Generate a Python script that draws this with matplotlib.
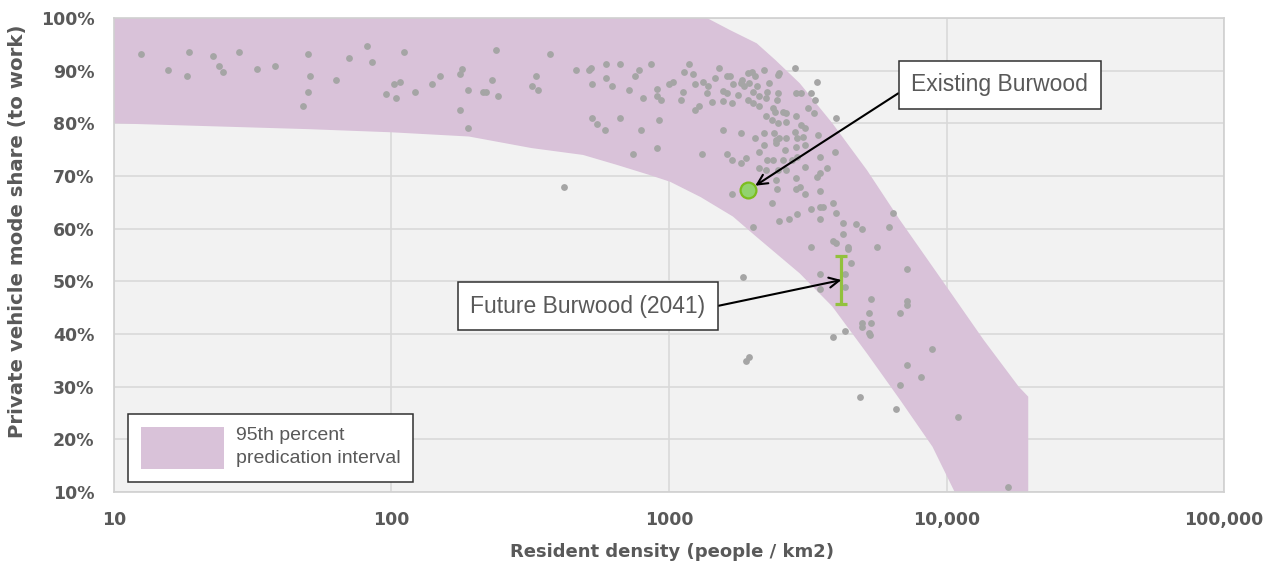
import numpy as np
import matplotlib.pyplot as plt
from matplotlib.patches import Patch
from matplotlib.ticker import FixedLocator, FixedFormatter

# survey areas : resident density (people / km2) vs private vehicle mode share (%)
density = [
    12.5, 15.6, 18.6, 18.4, 22.8, 23.9, 24.8, 28.3, 32.8, 38.1,
    49.9, 50.7, 49.9, 48.1, 62.9, 70.5, 81.8, 85.1, 95.3, 101.9,
    107.4, 103.5, 110.6, 122, 140, 150, 177, 180, 177, 189,
    189, 214, 219, 231, 238, 242, 321, 332, 338, 374,
    420, 464, 515, 524, 530, 530, 549, 586, 594, 594,
    625, 667, 667, 716, 740, 752, 778, 791, 804, 859,
    902, 902, 933, 918, 902, 997, 1031, 1120, 1101, 1178,
    1136, 1217, 1238, 1238, 1280, 1312,
    1514, 1465, 1660, 1615, 1330, 1380, 1370, 1566, 1615, 1425,
    1566, 1685, 1700, 1810, 1830, 1860, 1770, 1930, 1985, 2040,
    1950, 2070, 2010, 2110, 1930, 2010, 2110, 2200, 2290, 2260,
    2230, 2470, 2500, 2470, 2440, 2840, 3400, 2880, 3000, 3250,
    3350, 2370, 2410, 2580, 2650, 2230, 2350, 2470, 2650, 2880,
    3170, 3330, 4000, 3000, 3100, 2840, 1566, 1810, 2040, 2200,
    2380, 2420, 2500, 2640, 2900, 3030, 3450, 2200, 2420, 2620,
    2880, 3100, 1615, 1690, 1810, 1900, 2110, 2260, 2370, 2580,
    2780, 2900, 3500, 3950, 2110, 2230, 2470, 2640, 3100, 3500,
    3700, 2420, 2880, 3400,
    1680, 2000, 2360, 2450, 2490, 2700, 2900, 2860, 2970, 3100,
    3500, 3250, 3500, 3600, 3500, 3900, 4000, 4240, 4700, 4970,
    6390, 6200, 4240, 3900, 4400, 5600, 3250, 4000, 4400, 4530,
    7200, 1840, 3500, 4300, 3500, 4300, 5340, 5250, 6780, 7230,
    7200, 4970, 5330, 4970, 5250, 5300, 4300, 3900, 1950, 1900,
    8880, 7200, 8100, 6780, 4860, 6550, 11000, 16700,
]
mode_share = [
    93.2, 90.1, 93.5, 89.0, 92.8, 90.9, 89.7, 93.5, 90.4, 90.9,
    93.2, 89.0, 85.9, 83.3, 88.2, 92.4, 94.7, 91.6, 85.6, 87.4,
    87.8, 84.8, 93.5, 85.9, 87.4, 89.0, 89.3, 90.3, 82.5, 86.3,
    79.1, 85.9, 85.9, 88.2, 93.9, 85.1, 87.0, 89.0, 86.3, 93.2,
    68.0, 90.1, 90.1, 90.5, 87.4, 81.0, 79.8, 78.7, 91.2, 88.6,
    87.0, 91.2, 81.0, 86.3, 74.1, 89.0, 90.1, 78.7, 84.8, 91.2,
    86.6, 85.1, 84.4, 80.6, 75.3, 87.4, 87.8, 85.9, 84.4, 91.3,
    89.7, 89.3, 87.4, 82.5, 83.2, 74.1,
    90.6, 88.7, 89.0, 88.9, 87.8, 87.0, 85.8, 86.2, 85.8, 84.0,
    84.3, 83.8, 87.4, 87.6, 88.2, 87.0, 85.4, 89.5, 89.8, 88.9,
    87.6, 87.0, 86.0, 85.1, 84.4, 83.8, 83.2, 90.1, 87.6, 86.0,
    84.8, 89.1, 89.5, 85.7, 84.4, 90.6, 87.9, 85.7, 85.7, 85.7,
    84.4, 82.9, 82.2, 82.2, 81.9, 81.3, 80.6, 80.0, 80.3, 81.3,
    82.9, 81.9, 81.0, 79.7, 79.1, 78.4, 78.7, 78.1, 77.2, 78.1,
    78.1, 76.8, 77.2, 77.2, 77.2, 77.5, 77.8, 75.8, 76.2, 74.9,
    75.6, 75.8, 74.2, 73.0, 72.4, 73.4, 74.6, 73.0, 73.0, 73.0,
    73.0, 73.7, 73.7, 74.6, 71.5, 71.2, 71.2, 71.2, 71.8, 70.5,
    71.5, 69.2, 69.6, 69.9,
    66.5, 60.4, 64.9, 67.6, 61.5, 61.9, 62.7, 67.6, 68.0, 66.5,
    67.2, 63.8, 64.2, 64.2, 61.9, 64.9, 63.0, 61.1, 60.8, 60.0,
    63.0, 60.4, 58.9, 57.7, 56.6, 56.6, 56.6, 57.3, 56.2, 53.5,
    52.4, 50.9, 51.4, 51.3, 48.5, 48.9, 46.6, 43.9, 43.9, 46.2,
    45.5, 42.0, 42.0, 41.4, 40.1, 39.9, 40.5, 39.4, 35.7, 34.8,
    37.1, 34.1, 31.8, 30.3, 28.0, 25.7, 24.2, 10.9,
]

# 95th percent prediction interval edges
band_upper_x = [10, 1370, 1660, 2070, 2420, 2960, 3880, 5170, 6800, 10000, 13600, 18200, 19700]
band_upper_y = [100, 100, 97.7, 95.2, 92.0, 87.6, 80.0, 71.1, 61.6, 49.0, 38.9, 30.0, 28.1]
band_lower_x = [10, 50, 100, 190, 320, 490, 650, 850, 1010, 1300, 1700, 2050, 2960, 3880, 5170, 6800, 8900, 10700]
band_lower_y = [80.0, 78.9, 78.3, 77.5, 75.3, 74.0, 72.1, 70.2, 68.9, 66.0, 62.3, 58.6, 51.5, 45.2, 36.3, 27.5, 18.6, 10.0]

# Burwood
existing_density, existing_share = 1930, 67.3
future_density = 4180
future_low, future_high = 45.7, 54.8

x_ticks = [10, 100, 1000, 10000, 100000]
x_tick_labels = ['10', '100', '1000', '10,000', '100,000']
y_ticks = list(range(10, 101, 10))

band_col = '#d9c2d9'
grey_txt = '#595959'

fig = plt.figure(figsize=(12.72, 5.68), dpi=100)
ax = fig.add_axes([0.0896, 0.1338, 0.8727, 0.8345])
ax.set_facecolor('#f2f2f2')
ax.set_xscale('log')
ax.set_xlim(10, 100000)
ax.set_ylim(10, 100)

# band polygon (closed below the axis floor, gets clipped)
poly_x = band_upper_x + [band_upper_x[-1], band_lower_x[-1]] + band_lower_x[::-1]
poly_y = band_upper_y + [0, 0] + band_lower_y[::-1]
ax.fill(poly_x, poly_y, color=band_col, lw=0, zorder=1)

ax.scatter(density, mode_share, s=24, color='#a5a5a5', lw=0, zorder=3)

ax.scatter([existing_density], [existing_share], s=130, color='#92d36e',
           edgecolor='#7cbd1e', lw=1.6, zorder=4)
future_mid = (future_low + future_high) / 2
ax.errorbar([future_density], [future_mid], yerr=[[future_mid - future_low], [future_high - future_mid]],
            fmt='none', ecolor='#92c13e', elinewidth=2.3, capsize=4.5, capthick=2.3, zorder=4)

# grid / frame
ax.xaxis.set_major_locator(FixedLocator(x_ticks))
ax.xaxis.set_major_formatter(FixedFormatter(x_tick_labels))
ax.xaxis.set_minor_locator(FixedLocator([]))
ax.set_yticks(y_ticks)
ax.set_yticklabels([f'{v}%' for v in y_ticks])
ax.grid(True, color='#d9d9d9', lw=1.2, zorder=0)
ax.set_axisbelow(True)
for sp in ax.spines.values():
    sp.set_color('#d0d0d0')
    sp.set_linewidth(1.2)
ax.tick_params(length=0, colors=grey_txt, labelsize=12.5)
ax.tick_params(axis='x', pad=14)
ax.tick_params(axis='y', pad=14)
for lbl in ax.get_xticklabels() + ax.get_yticklabels():
    lbl.set_fontweight('bold')

ax.set_xlabel('Resident density (people / km2)', fontsize=13, fontweight='bold', color=grey_txt)
ax.set_ylabel('Private vehicle mode share (to work)', fontsize=14.2, fontweight='bold', color=grey_txt)
ax.xaxis.set_label_coords(0.503, -0.108)
ax.yaxis.set_label_coords(-0.078, 0.55)

# callouts
box = dict(boxstyle='square,pad=0.55', fc='white', ec='#303030', lw=1.1)
arrow = dict(arrowstyle='->', color='black', lw=1.5, mutation_scale=18, shrinkA=0, shrinkB=6)
ax.annotate('Existing Burwood', xy=(existing_density, existing_share), xytext=(0.798, 0.859),
            textcoords='axes fraction', ha='center', va='center', fontsize=16.5,
            family='Liberation Sans', color=grey_txt, bbox=box,
            arrowprops=dict(arrow, relpos=(0, 0.5)), zorder=5)
ax.annotate('Future Burwood (2041)', xy=(future_density, future_mid), xytext=(0.427, 0.392),
            textcoords='axes fraction', ha='center', va='center', fontsize=16.5,
            family='Liberation Sans', color=grey_txt, bbox=box,
            arrowprops=dict(arrow, shrinkB=0, relpos=(1, 0.4)), zorder=5)

leg = ax.legend(handles=[Patch(facecolor=band_col, edgecolor='none')],
                labels=['95th percent\npredication interval'],
                loc='lower left', bbox_to_anchor=(0.0126, 0.021), borderaxespad=0,
                fancybox=False, edgecolor='#303030', framealpha=1,
                handlelength=4.3, handleheight=3.0, handletextpad=0.6,
                borderpad=0.65, prop={'family': 'Liberation Sans', 'size': 14})
leg.get_frame().set_linewidth(1.1)
for t in leg.get_texts():
    t.set_color(grey_txt)
    t.set_linespacing(1.45)

fig.savefig('out.png', dpi=100)
